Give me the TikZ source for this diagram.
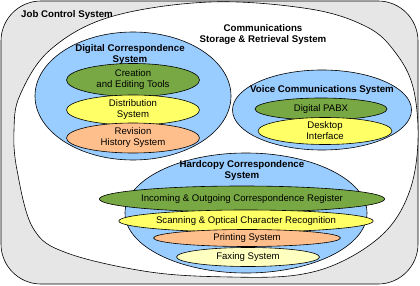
\documentclass[tikz,border=0pt]{standalone}
\usepackage{fontspec}
\setmainfont{Liberation Sans}
\usetikzlibrary{shapes.geometric}
\definecolor{framegray}{HTML}{E6E6E6}
\definecolor{sysblue}{HTML}{99CCFF}
\definecolor{partgreen}{HTML}{77A843}
\definecolor{partyellow}{HTML}{FFFF66}
\definecolor{partorange}{HTML}{FFBF8C}
\definecolor{partpale}{HTML}{FFFFC0}

\begin{document}
\begin{tikzpicture}[x=1pt,y=-1pt,
 system/.style={draw=black,ellipse,fill=sysblue,line width=0.6pt,inner sep=0pt},
 part/.style={draw=black,ellipse,line width=0.6pt,inner sep=0pt,align=center},
 heading/.style={align=center,font=\fontsize{9.7}{11}\selectfont\bfseries},
 every node/.style={font=\fontsize{9.6}{11}\selectfont}]
\useasboundingbox (0,0) rectangle (420,286);
\draw[fill=framegray,line width=0.6pt,rounded corners=40pt] (1,1) rectangle (418,284);
\draw[fill=white,line width=0.6pt] plot[smooth cycle,tension=0.6] coordinates {
 (14,130) (17,170) (33,228) (67,253) (150,272) (230,277) (297,275) (345,260)
 (387,230) (410,190) (418,140) (413,87) (395,52) (367,27) (310,9) (210,2)
 (110,17) (50,50) (20,95)};
\node[heading] (jcs) at (67,15) {Job Control System};
\node[heading] (csrs) at (263,35) {Communications\\Storage \& Retrieval System};
% digital correspondence
\node[system,minimum width=196pt,minimum height=128pt] (dcs) at (133,96) {};
\node[heading] (dcstitle) at (130,54) {Digital Correspondence\\System};
\node[part,fill=partgreen,minimum width=133pt,minimum height=33pt] (create) at (133,80) {Creation\\and Editing Tools};
\node[part,fill=partyellow,minimum width=133pt,minimum height=30pt] (distrib) at (133,110) {Distribution\\System};
\node[part,fill=partorange,minimum width=133pt,minimum height=30pt] (revision) at (133,138) {Revision\\History System};
% voice communications
\node[system,minimum width=179pt,minimum height=80pt] (vcs) at (322,110) {};
\node[heading] (vcstitle) at (322,90) {Voice Communications System};
\node[part,fill=partgreen,minimum width=132pt,minimum height=22pt] (pabx) at (321,109) {Digital PABX};
\node[part,fill=partyellow,minimum width=134pt,minimum height=27pt] (desktop) at (325,131) {Desktop\\Interface};
% hardcopy correspondence
\node[system,minimum width=242pt,minimum height=120pt] (hcs) at (246,213) {};
\node[heading] (hcstitle) at (242,170) {Hardcopy Correspondence\\System};
\node[part,fill=partgreen,minimum width=223pt,minimum height=26pt] (register) at (242,199) {Incoming \& Outgoing Correspondence Register};
\node[part,fill=partyellow,minimum width=212pt,minimum height=22pt] (scanning) at (246,221) {Scanning \& Optical Character Recognition};
\node[part,fill=partorange,minimum width=187pt,minimum height=17pt] (printing) at (247,238) {Printing System};
\node[part,fill=partpale,minimum width=143pt,minimum height=19pt] (faxing) at (248,257) {Faxing System};
\end{tikzpicture}
\end{document}
